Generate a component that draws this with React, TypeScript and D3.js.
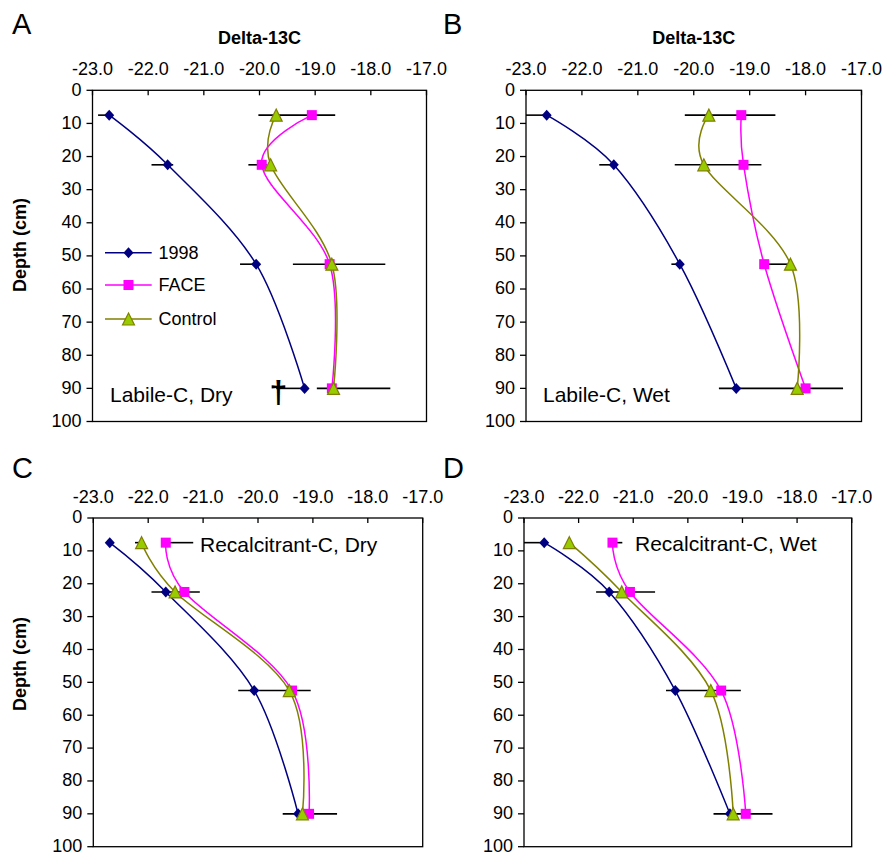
import * as d3 from 'd3'

// depth of the four sampled layers (cm)
const depths = [7.5, 22.5, 52.5, 90]
const xTicks = [-23, -22, -21, -20, -19, -18, -17]
const yTicks = [0, 10, 20, 30, 40, 50, 60, 70, 80, 90, 100]
const seriesNames = ['1998', 'FACE', 'Control']

// delta-13C values per series, panel by panel
const labileDry1998 = [-22.70, -21.65, -20.06, -19.19]
const labileDryFace = [-19.06, -19.96, -18.74, -18.70]
const labileDryControl = [-19.70, -19.80, -18.70, -18.67]

const labileWet1998 = [-22.63, -21.43, -20.25, -19.24]
const labileWetFace = [-19.15, -19.11, -18.74, -18.00]
const labileWetControl = [-19.73, -19.82, -18.27, -18.15]

const recalDry1998 = [-22.70, -21.68, -20.07, -19.27]
const recalDryFace = [-21.68, -21.34, -19.38, -19.07]
const recalDryControl = [-22.12, -21.51, -19.43, -19.19]

const recalWet1998 = [-22.63, -21.44, -20.23, -19.23]
const recalWetFace = [-21.38, -21.06, -19.39, -18.94]
const recalWetControl = [-22.17, -21.21, -19.58, -19.17]

// error bars: [depth, low, high]
const labileDryErr = [
  [7.5, -22.9, -22.7], [22.5, -21.94, -21.55], [52.5, -20.35, -19.99], [90, -19.7, -19.19],
  [7.5, -20.02, -18.64], [22.5, -20.2, -19.87], [52.5, -19.4, -17.74], [90, -18.97, -17.65],
]
const labileWetErr = [
  [7.5, -23.0, -22.63], [22.5, -21.69, -21.43], [52.5, -20.4, -20.25],
  [7.5, -20.16, -18.54], [22.5, -20.34, -18.79], [52.5, -18.73, -18.27], [90, -19.55, -17.33],
]
const recalDryErr = [
  [7.5, -22.24, -22.12], [7.5, -21.68, -21.18], [22.5, -21.94, -21.06],
  [52.5, -20.36, -19.04], [90, -19.55, -18.56],
]
const recalWetErr = [
  [7.5, -23.0, -22.63], [7.5, -21.38, -21.2], [22.5, -21.68, -20.6],
  [52.5, -20.4, -19.03], [90, -19.53, -18.45],
]

const FONT = '"Liberation Sans", Arial, sans-serif'
const COLORS = ['#000080', '#FF00FF', '#808000']

const PANELS = [
  { letter: 'A', lx: 12, ly: 34, x0: 92.5, x1: 426.5, y0: 90.3, y1: 421.5, title: true, legend: true, dagger: true,
    label: 'Labile-C, Dry', tx: 110, ty: 402, ylabY: 245,
    series: [labileDry1998, labileDryFace, labileDryControl], err: labileDryErr },
  { letter: 'B', lx: 443, ly: 34, x0: 526, x1: 861.5, y0: 90.3, y1: 421.5, title: true,
    label: 'Labile-C, Wet', tx: 543, ty: 402,
    series: [labileWet1998, labileWetFace, labileWetControl], err: labileWetErr },
  { letter: 'C', lx: 12, ly: 478, x0: 93.3, x1: 422.7, y0: 518, y1: 846.7,
    label: 'Recalcitrant-C, Dry', tx: 200, ty: 552, ylabY: 664,
    series: [recalDry1998, recalDryFace, recalDryControl], err: recalDryErr },
  { letter: 'D', lx: 443, ly: 478, x0: 524, x1: 851.7, y0: 518, y1: 846.7,
    label: 'Recalcitrant-C, Wet', tx: 635, ty: 551,
    series: [recalWet1998, recalWetFace, recalWetControl], err: recalWetErr },
]

function Marker({ i, x, y }) {
  if (i === 0) return <path d={`M${x},${y - 5.5}L${x + 5},${y}L${x},${y + 5.5}L${x - 5},${y}Z`} fill="#000080" />
  if (i === 1) return <rect x={x - 5} y={y - 5} width={10} height={10} fill="#FF00FF" />
  return <path d={`M${x},${y - 6}L${x + 6},${y + 6}L${x - 6},${y + 6}Z`} fill="#99CC00" stroke="#808000" strokeWidth={1.2} />
}

function Panel({ p }) {
  const x = d3.scaleLinear().domain([-23, -17]).range([p.x0, p.x1])
  const y = d3.scaleLinear().domain([0, 100]).range([p.y0, p.y1])
  const line = d3.line().curve(d3.curveCardinal.tension(0))

  return (
    <g fontFamily={FONT}>
      <text x={p.lx} y={p.ly} fontSize={29}>{p.letter}</text>
      {p.title && (
        <text x={(p.x0 + p.x1) / 2} y={44} textAnchor="middle" fontSize={18} fontWeight="bold">Delta-13C</text>
      )}
      {p.ylabY && (
        <text transform={`translate(26,${p.ylabY}) rotate(-90)`} textAnchor="middle" fontSize={18} fontWeight="bold">Depth (cm)</text>
      )}

      {/* top axis labels + inward ticks */}
      {xTicks.map(t => (
        <g key={t}>
          <text x={x(t)} y={p.y0 - 15} textAnchor="middle" fontSize={18}>{t.toFixed(1)}</text>
          <line x1={x(t)} x2={x(t)} y1={p.y0} y2={p.y0 + 5} stroke="#000" strokeWidth={1.3} />
        </g>
      ))}
      {/* depth axis */}
      {yTicks.map(t => (
        <g key={t}>
          <text x={p.x0 - 11} y={y(t)} dy="0.3em" textAnchor="end" fontSize={18}>{t}</text>
          <line x1={p.x0 - 6} x2={p.x0} y1={y(t)} y2={y(t)} stroke="#000" strokeWidth={1.3} />
        </g>
      ))}
      <rect x={p.x0} y={p.y0} width={p.x1 - p.x0} height={p.y1 - p.y0} fill="none" stroke="#000" strokeWidth={1.3} />

      {p.err.map((e, k) => (
        <line key={k} x1={x(e[1])} x2={x(e[2])} y1={y(e[0])} y2={y(e[0])} stroke="#000" strokeWidth={1.6} />
      ))}

      {p.series.map((vals, i) => (
        <path key={i} d={line(vals.map((v, j) => [x(v), y(depths[j])]))} fill="none" stroke={COLORS[i]} strokeWidth={1.5} />
      ))}
      {p.series.map((vals, i) => vals.map((v, j) => (
        <Marker key={`${i}-${j}`} i={i} x={x(v)} y={y(depths[j])} />
      )))}

      {p.dagger && (
        <text x={278.5} y={403} textAnchor="middle" fontSize={32} fontWeight="bold">†</text>
      )}

      <text x={p.tx} y={p.ty} fontSize={21}>{p.label}</text>

      {p.legend && seriesNames.map((name, i) => {
        const ly = [252.7, 285, 319][i]
        return (
          <g key={name}>
            <line x1={105} x2={151.7} y1={ly} y2={ly} stroke={COLORS[i]} strokeWidth={1.5} />
            <Marker i={i} x={128.5} y={ly} />
            <text x={158.5} y={ly} dy="0.35em" fontSize={18}>{name}</text>
          </g>
        )
      })}
    </g>
  )
}

export default function App() {
  return (
    <div style={{ position: 'absolute', left: 0, top: 0 }}>
      <svg width={885} height={853} style={{ display: 'block', background: '#fff' }}>
        {PANELS.map(p => <Panel key={p.letter} p={p} />)}
      </svg>
    </div>
  )
}
